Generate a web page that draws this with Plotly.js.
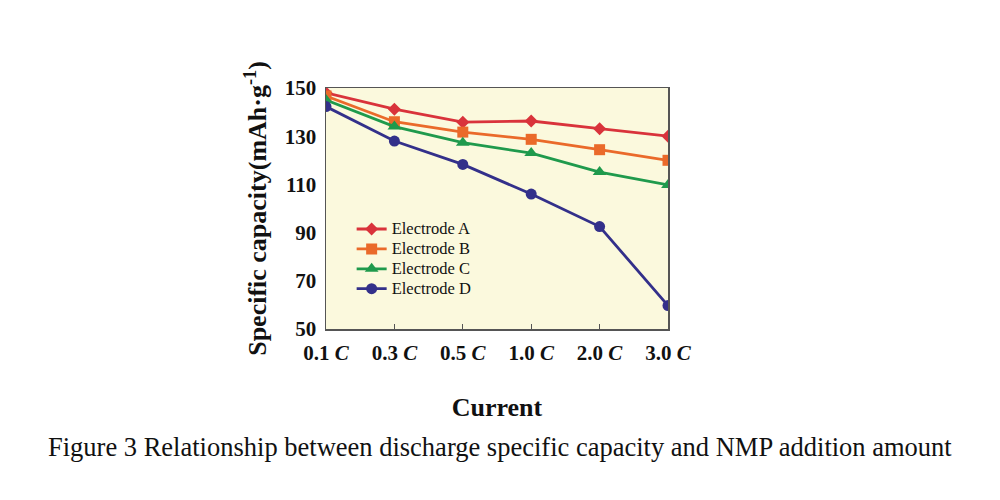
<!DOCTYPE html>
<html><head><meta charset="utf-8">
<script src="https://cdn.plot.ly/plotly-3.0.1.min.js"></script>
<style>html,body{margin:0;padding:0;background:#fff}#c{width:1000px;height:500px}</style>
</head><body><div id="c"></div>
<script>
const categories = ["0.1 C","0.3 C","0.5 C","1.0 C","2.0 C","3.0 C"];
const tickLabels = ["0.1 <i>C</i>","0.3 <i>C</i>","0.5 <i>C</i>","1.0 <i>C</i>","2.0 <i>C</i>","3.0 <i>C</i>"];
const seriesNames = ["Electrode A","Electrode B","Electrode C","Electrode D"];
const electrodeA = [148.0, 141.2, 135.8, 136.3, 133.1, 130.0];
const electrodeB = [146.7, 136.0, 131.7, 128.7, 124.4, 120.0];
const electrodeC = [145.0, 134.0, 127.3, 123.0, 115.1, 109.8];
const electrodeD = [142.3, 128.0, 118.3, 106.0, 92.5, 59.7];

const colors = ["#d9333b","#ea6a2a","#1f9a4c","#33308a"];
const symbols = ["diamond","square","triangle-up","circle"];
const sizes = [10,11,12,11];
const data = [electrodeA, electrodeB, electrodeC, electrodeD].map((ys,i)=>({
  x: categories.map((c,j)=>j), y: ys,
  name: '<span style="font-size:16.5px">' + seriesNames[i] + '</span>',
  type:"scatter", mode:"lines+markers",
  line:{color:colors[i], width:2.8}, marker:{color:colors[i], symbol:symbols[i], size:sizes[i]}
}));
const serif = "Liberation Serif, Times New Roman, serif";
const layout = {
  width:1000, height:500, margin:{l:326, r:332, t:88, b:171},
  paper_bgcolor:"#ffffff", plot_bgcolor:"#fbf9dd",
  showlegend:true,
  legend:{x:0.075, y:0.477, xanchor:"left", yanchor:"top", bgcolor:"rgba(0,0,0,0)",
    font:{family:serif, size:13, color:"#111"}, tracegroupgap:0, itemwidth:30},
  xaxis:{range:[0,5], tickvals:[0,1,2,3,4,5], ticktext:tickLabels, showgrid:false, zeroline:false,
    showline:true, linecolor:"#555", linewidth:1.5, mirror:true, ticks:"inside", ticklen:5, tickcolor:"#555",
    ticklabelstandoff:4,
    tickfont:{family:serif, size:21, color:"#111", weight:"bold"},
    title:{text:"<b>Current</b>", font:{family:serif, size:26, color:"#111"}, standoff:34}},
  yaxis:{range:[50,150], tickvals:[50,70,90,110,130,150], showgrid:false, zeroline:false,
    showline:true, linecolor:"#555", linewidth:1.5, mirror:true, ticks:"",
    ticklabelstandoff:4,
    tickfont:{family:serif, size:21, color:"#111", weight:"bold"},
    title:{text:"<b>Specific capacity(mAh·g<sup>-1</sup>)</b>", font:{family:serif, size:26, color:"#111"}, standoff:10}},
  annotations:[{text:"Figure 3 Relationship between discharge specific capacity and NMP addition amount",
    xref:"paper", yref:"paper", x:0.51, y:-0.49, xanchor:"center", yanchor:"middle", showarrow:false,
    font:{family:serif, size:26.5, color:"#111"}}]
};
Plotly.newPlot("c", data, layout, {displayModeBar:false, staticPlot:true});
</script></body></html>
